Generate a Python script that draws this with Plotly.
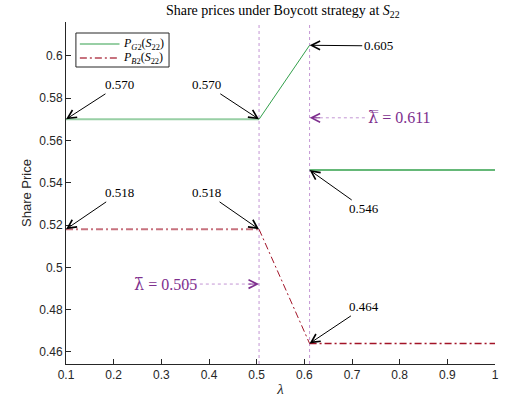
import plotly.graph_objects as go

# Threshold values of lambda
lambda_bar = 0.505
lambda_dbar = 0.611

# P_G2(S_22): flat, rising, then flat after the jump
pg2_lam_left = [0.1, 0.505]
pg2_val_left = [0.570, 0.570]
pg2_lam_mid = [0.505, 0.611]
pg2_val_mid = [0.570, 0.605]
pg2_lam_right = [0.611, 1.0]
pg2_val_right = [0.546, 0.546]

# P_B2(S_22): flat, falling, then flat
pb2_lam_left = [0.1, 0.505]
pb2_val_left = [0.518, 0.518]
pb2_lam_mid = [0.505, 0.611]
pb2_val_mid = [0.518, 0.464]
pb2_lam_right = [0.611, 1.0]
pb2_val_right = [0.464, 0.464]

x_ticks = [0.1, 0.2, 0.3, 0.4, 0.5, 0.6, 0.7, 0.8, 0.9, 1.0]
x_ticktext = ["0.1", "0.2", "0.3", "0.4", "0.5", "0.6", "0.7", "0.8", "0.9", "1"]
y_ticks = [0.46, 0.48, 0.50, 0.52, 0.54, 0.56, 0.58, 0.60]
y_ticktext = ["0.46", "0.48", "0.5", "0.52", "0.54", "0.56", "0.58", "0.6"]

# value labels: (text, head_x, head_y, text_x, text_y)
value_labels = [
    ("0.570", 0.1, 0.570, 0.212, 0.5863),
    ("0.570", 0.505, 0.570, 0.395, 0.5863),
    ("0.605", 0.611, 0.605, 0.755, 0.6047),
    ("0.546", 0.611, 0.546, 0.726, 0.5276),
    ("0.518", 0.1, 0.518, 0.212, 0.5352),
    ("0.518", 0.505, 0.518, 0.395, 0.5352),
    ("0.464", 0.611, 0.464, 0.726, 0.4813),
]

legend_names = ["<i>P</i><sub><i>G</i>2</sub>(<i>S</i><sub>22</sub>)",
                "<i>P</i><sub><i>B</i>2</sub>(<i>S</i><sub>22</sub>)"]

GREEN = "rgb(50,160,75)"
GREEN_LIGHT = "rgba(50,160,75,0.5)"
RED = "rgb(162,20,40)"
RED_LIGHT = "rgba(162,20,40,0.6)"
PURPLE = "rgb(126,47,142)"
PURPLE_LIGHT = "rgb(196,150,212)"
SERIF = "Liberation Serif"
SANS = "Liberation Sans"
DASHDOT = "7px,3px,2px,3px"

fig = go.Figure()

fig.add_trace(go.Scatter(x=pg2_lam_left, y=pg2_val_left, mode="lines",
                         line=dict(color=GREEN_LIGHT, width=2), name=legend_names[0]))
fig.add_trace(go.Scatter(x=pb2_lam_left, y=pb2_val_left, mode="lines",
                         line=dict(color=RED_LIGHT, width=2, dash=DASHDOT), name=legend_names[1]))
fig.add_trace(go.Scatter(x=pg2_lam_mid, y=pg2_val_mid, mode="lines",
                         line=dict(color=GREEN, width=1)))
fig.add_trace(go.Scatter(x=pg2_lam_right, y=pg2_val_right, mode="lines",
                         line=dict(color=GREEN, width=1.5)))
fig.add_trace(go.Scatter(x=pb2_lam_mid, y=pb2_val_mid, mode="lines",
                         line=dict(color=RED, width=1, dash=DASHDOT)))
fig.add_trace(go.Scatter(x=pb2_lam_right, y=pb2_val_right, mode="lines",
                         line=dict(color=RED, width=1.4, dash=DASHDOT)))

# vertical dotted guides at the thresholds
for xv in (lambda_bar, lambda_dbar):
    fig.add_shape(type="line", xref="x", yref="paper", x0=xv, x1=xv, y0=0, y1=1,
                  line=dict(color=PURPLE_LIGHT, width=1, dash="dot"), layer="below")

# black arrows with value labels
for text, hx, hy, tx, ty in value_labels:
    fig.add_annotation(x=hx, y=hy, ax=tx, ay=ty, axref="x", ayref="y",
                       text=text, showarrow=True, arrowhead=5, arrowsize=1.7,
                       arrowwidth=1, arrowcolor="black", standoff=0,
                       font=dict(family=SERIF, size=13, color="black"))

# threshold labels with dotted arrows
LAM = '<span style="font-family:DejaVu Serif">{}</span>'
thresholds = [
    (LAM.format("λ\u0304") + " = 0.505", lambda_bar, 0.4921, 0.308, 0.4921, 0.343, 0.502),
    (LAM.format("λ\u033f") + " = 0.611", lambda_dbar, 0.5707, 0.799, 0.5707, 0.727, 0.616),
]
for text, hx, hy, tx, ty, line_from, line_to in thresholds:
    fig.add_annotation(x=tx, y=ty, text=text, showarrow=False,
                       font=dict(family=SERIF, size=16, color=PURPLE))
    fig.add_trace(go.Scatter(x=[line_from, line_to], y=[hy, hy], mode="lines",
                             line=dict(color=PURPLE_LIGHT, width=1, dash="dot"),
                             hoverinfo="skip"))
    direction = 1 if hx > tx else -1
    fig.add_annotation(x=hx, y=hy, ax=-direction * 12, ay=0, text="",
                       showarrow=True, arrowhead=5, arrowsize=1.7, arrowwidth=1,
                       arrowcolor=PURPLE, standoff=0)

# compact boxed legend in the upper-left corner
fig.add_shape(type="rect", xref="paper", yref="paper", x0=0.0231, x1=0.2402,
              y0=0.8684, y1=0.9678, line=dict(color="#262626", width=1),
              fillcolor="white", layer="above")
legend_rows = [(0.9357, GREEN_LIGHT, "solid"), (0.8947, RED_LIGHT, DASHDOT)]
for name, (ry, col, dash) in zip(legend_names, legend_rows):
    fig.add_shape(type="line", xref="paper", yref="paper", x0=0.0323, x1=0.1247,
                  y0=ry, y1=ry, line=dict(color=col, width=2, dash=dash), layer="above")
    fig.add_annotation(xref="paper", yref="paper", x=0.1293, y=ry, xanchor="left",
                       yanchor="middle", text=name, showarrow=False,
                       font=dict(family=SERIF, size=12, color="black"))

fig.update_layout(
    width=505, height=404,
    margin=dict(l=66, r=6, t=22, b=40),
    plot_bgcolor="white", paper_bgcolor="white",
    title=dict(text="Share prices under Boycott strategy at <i>S</i><sub>22</sub>",
               x=0.56, xanchor="center", y=0.975, yanchor="middle",
               font=dict(family=SERIF, size=14, color="black")),
    showlegend=False,
)
fig.update_xaxes(range=[0.1, 1.0], tickvals=x_ticks, ticktext=x_ticktext,
                 showgrid=False, zeroline=False, showline=True, linecolor="#262626",
                 linewidth=1, ticks="inside", ticklen=5, tickcolor="#262626",
                 tickfont=dict(family=SANS, size=12, color="#262626"),
                 title=dict(text="<i>λ</i>", font=dict(family=SERIF, size=15, color="#262626"),
                            standoff=2))
fig.update_yaxes(range=[0.4543, 0.616], tickvals=y_ticks, ticktext=y_ticktext,
                 showgrid=False, zeroline=False, showline=True, linecolor="#262626",
                 linewidth=1, ticks="inside", ticklen=5, tickcolor="#262626",
                 tickfont=dict(family=SANS, size=12, color="#262626"),
                 title=dict(text="Share Price", font=dict(family=SANS, size=13, color="#262626"),
                            standoff=4))

fig.write_html("out.html")
